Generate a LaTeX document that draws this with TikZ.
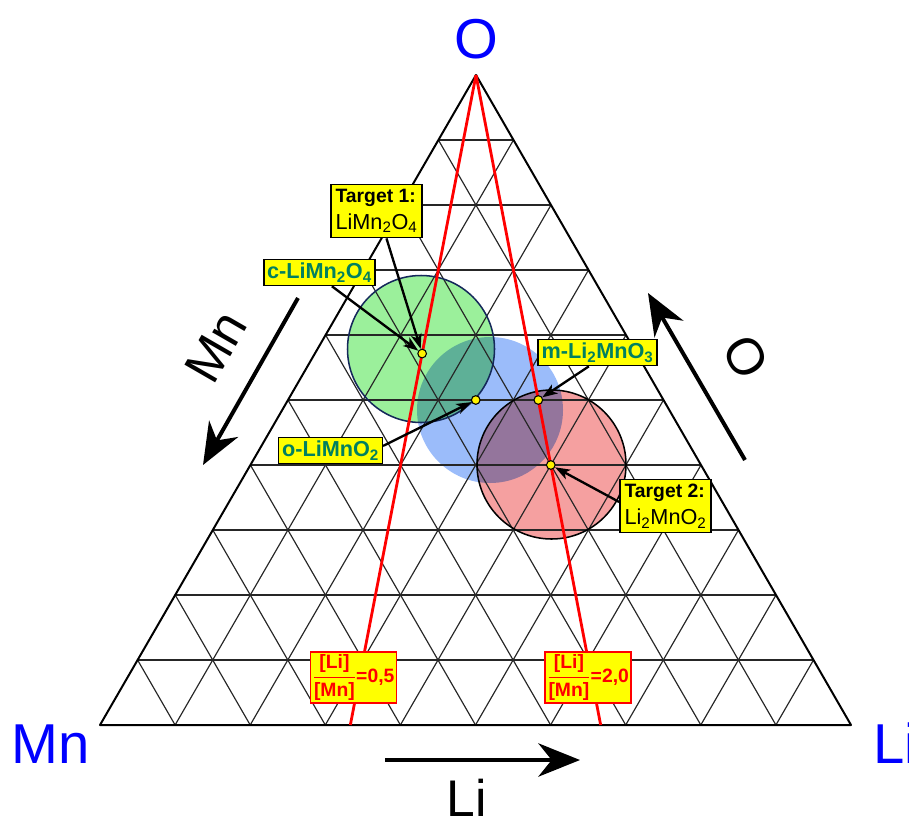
\documentclass[tikz,border=0pt]{standalone}
\usepackage{amsmath}
\usepackage{fontspec}
\setmainfont{Liberation Sans}
\usetikzlibrary{calc,arrows.meta}
\definecolor{lblfill}{RGB}{255,255,0}
\definecolor{phasetext}{RGB}{0,128,96}
\definecolor{cornerblue}{RGB}{0,0,255}
\definecolor{greenfill}{RGB}{155,240,155}
\definecolor{bluefill}{RGB}{155,188,250}
\definecolor{redfill}{RGB}{245,160,160}
\definecolor{greenline}{RGB}{20,40,90}

\begin{document}
\begin{tikzpicture}[x=0.3mm, y=-0.3mm,
  gridline/.style={line width=1pt, black!85},
  edge/.style={line width=1.7pt, black, line join=round},
  ratioline/.style={line width=2.4pt, red},
  lbl/.style={draw=black, line width=1.3pt, fill=lblfill, inner sep=1mm, font=\fontsize{18.5}{23}\selectfont},
  target/.style={lbl, align=left, inner sep=1.4mm},
  phase/.style={lbl, text=phasetext, font=\fontsize{18.5}{22}\selectfont\bfseries},
  ratio/.style={lbl, draw=red, text=red, font=\fontsize{16.5}{19}\selectfont\bfseries, inner sep=0.6mm},
  comp/.style={circle, draw=black, line width=0.9pt, fill=yellow, inner sep=0pt, minimum size=2.6mm},
  corner/.style={text=cornerblue, inner sep=0pt, font=\fontsize{48}{50}\selectfont},
  axis/.style={inner sep=0pt, font=\fontsize{44}{46}\selectfont},
  axarr/.style={-{Stealth[length=12.5mm, width=10mm, inset=4mm]}, line width=3.4pt},
  larr/.style={-{Stealth[length=4.5mm, width=3.2mm, inset=1.2mm]}, line width=2pt}]
\useasboundingbox (0,0) rectangle (909,822);

% corners of the diagram
\coordinate (Mn) at (100,725);
\coordinate (Li) at (851,725);
\coordinate (O) at (476,75);

% composition regions
\coordinate (cg) at (421,349);
\coordinate (cb) at (490,410);
\coordinate (cr) at (551.5,464.5);
\begin{scope}[blend group=multiply]
  \fill[greenfill] (cg) circle[radius=73.5];
  \fill[bluefill] (cb) circle[radius=73];
  \fill[redfill] (cr) circle[radius=74.5];
\end{scope}

% grid
\foreach \k in {1,...,9}{
  \draw[gridline] ($(Mn)!\k/10!(O)$) -- ($(Li)!\k/10!(O)$);
  \draw[gridline] ($(Mn)!\k/10!(Li)$) -- ($(O)!\k/10!(Li)$);
  \draw[gridline] ($(Li)!\k/10!(Mn)$) -- ($(O)!\k/10!(Mn)$);
}
\draw[edge] (Mn) -- (Li) -- (O) -- cycle;

\draw[greenline, line width=1.3pt] (cg) circle[radius=73.5];
\draw[black, line width=1.3pt] (cr) circle[radius=74.5];

% [Li]/[Mn] lines
\coordinate (r05) at ($(Mn)!1/3!(Li)$);
\coordinate (r20) at ($(Mn)!2/3!(Li)$);
\draw[ratioline] (O) -- (r05);
\draw[ratioline] (O) -- (r20);

% compositions
\node[comp] (p1) at (barycentric cs:Li=1,Mn=2,O=4) {};
\node[comp] (p2) at (barycentric cs:Li=1,Mn=1,O=2) {};
\node[comp] (p3) at (barycentric cs:Li=2,Mn=1,O=3) {};
\node[comp] (p4) at (barycentric cs:Li=2,Mn=1,O=2) {};

% labels
\node[target] (t1) at (376.5,211) {\textbf{\fontsize{16.5}{23}\selectfont Target 1:}\\LiMn\textsubscript{2}O\textsubscript{4}};
\node[target] (t2) at (665.5,506) {\textbf{\fontsize{16.5}{23}\selectfont Target 2:}\\Li\textsubscript{2}MnO\textsubscript{2}};
\node[phase] (c) at (319.5,272.5) {c-LiMn\textsubscript{2}O\textsubscript{4}};
\node[phase] (m) at (597.5,352.5) {m-Li\textsubscript{2}MnO\textsubscript{3}};
\node[phase] (o) at (330.5,450.5) {o-LiMnO\textsubscript{2}};
\node[ratio] (q1) at (353.5,677.5) {$\genfrac{}{}{1.3pt}{0}{\mbox{[Li]}}{\mbox{[Mn]}}$=0,5};
\node[ratio] (q2) at (588,677.5) {$\genfrac{}{}{1.3pt}{0}{\mbox{[Li]}}{\mbox{[Mn]}}$=2,0};

\draw[larr] (t1.-70) -- (p1);
\draw[larr] (c.-48) -- (p1);
\draw[larr] (o.5) -- (p2);
\draw[larr] (m.-122) -- (p3);
\draw[larr] (t2.175) -- (p4);

% corner names
\node[corner, anchor=base] (nO) at (476,58) {O};
\node[corner, anchor=base] (nMn) at (51,763) {Mn};
\node[corner, anchor=base west] (nLi) at (873,763) {Li};

% axis arrows
\coordinate (mnA) at (298,298); \coordinate (mnB) at (203,465);
\coordinate (oA) at (745,460); \coordinate (oB) at (648,293);
\coordinate (liA) at (385,760); \coordinate (liB) at (580,760);
\draw[axarr] (mnA) -- (mnB);
\draw[axarr] (oA) -- (oB);
\draw[axarr] (liA) -- (liB);
\node[axis, rotate=60] (aMn) at (216,347) {Mn};
\node[axis, rotate=-60] (aO) at (746,357) {O};
\node[axis, anchor=base] (aLi) at (467,816) {Li};
\end{tikzpicture}
\end{document}
